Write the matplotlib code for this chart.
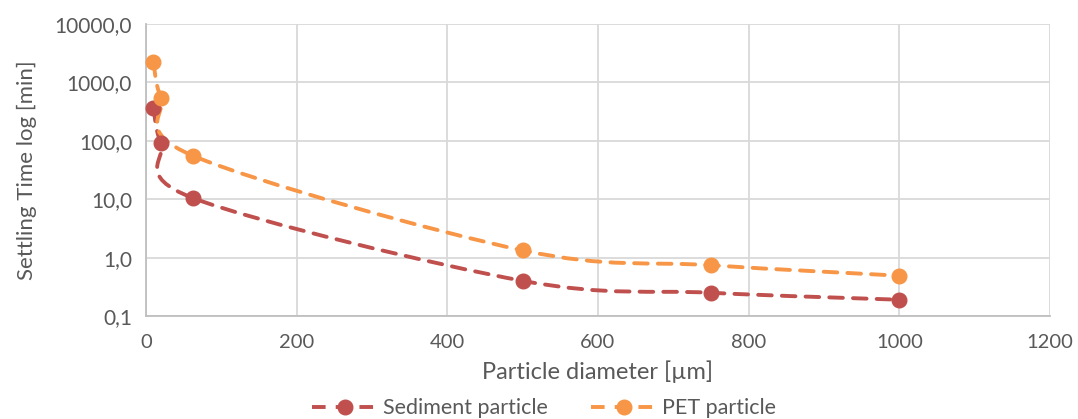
import numpy as np
import matplotlib
matplotlib.use("Agg")
import matplotlib.pyplot as plt
from matplotlib.path import Path
from matplotlib.patches import PathPatch
from matplotlib.lines import Line2D
from matplotlib.ticker import FuncFormatter, FixedLocator

# --- dados ---
diameter = [10, 20, 63, 500, 750, 1000]
sediment = [370, 92, 10.4, 0.40, 0.25, 0.19]
pet = [2200, 550, 55, 1.33, 0.74, 0.49]
series_names = ["Sediment particle", "PET particle"]
colors = ["#C0504D", "#F79646"]
y_ticks = [0.1, 1, 10, 100, 1000, 10000]
x_ticks = [0, 200, 400, 600, 800, 1000, 1200]

plt.rcParams['font.family'] = ['Lato', 'DejaVu Sans']
TXT = "#595959"


def smooth_path(xs, ys):
    # curva suavizada tipo Excel (Catmull-Rom -> Bezier) no espaco (x, log y)
    p = np.column_stack([np.asarray(xs, float), np.log10(ys)])
    n = len(p)
    verts = [p[0]]
    codes = [Path.MOVETO]
    for i in range(n - 1):
        p0 = p[i - 1] if i > 0 else p[i]
        p3 = p[i + 2] if i + 2 < n else p[i + 1]
        c1 = p[i] + (p[i + 1] - p0) / 6
        c2 = p[i + 1] - (p3 - p[i]) / 6
        verts += [c1, c2, p[i + 1]]
        codes += [Path.CURVE4] * 3
    v = np.array(verts)
    v[:, 1] = 10 ** v[:, 1]
    return Path(v, codes)


fig = plt.figure(figsize=(10.78, 4.19), dpi=100)
ax = fig.add_axes([0.1354, 0.2458, 0.8386, 0.6969])
ax.set_yscale('log')
ax.set_xlim(0, 1200)
ax.set_ylim(0.1, 10000)

for vals, col in zip([sediment, pet], colors):
    patch = PathPatch(smooth_path(diameter, vals), fill=False, edgecolor=col,
                      lw=2.8, linestyle=(0, (3.5, 2.6)), capstyle='round', zorder=3)
    ax.add_patch(patch)
    ax.plot(diameter, vals, 'o', color=col, ms=10.5, zorder=4, clip_on=False)

ax.yaxis.set_major_locator(FixedLocator(y_ticks))
ax.yaxis.set_minor_locator(FixedLocator([]))
ax.yaxis.set_major_formatter(FuncFormatter(lambda v, p: f"{v:.1f}".replace('.', ',')))
ax.set_xticks(x_ticks)

ax.grid(True, color="#D9D9D9", lw=1.3)
ax.set_axisbelow(True)
for s in ['top', 'right']:
    ax.spines[s].set_visible(False)
for s in ['left', 'bottom']:
    ax.spines[s].set_color("#BFBFBF")
    ax.spines[s].set_linewidth(1.3)
ax.tick_params(axis='y', length=0, labelsize=15, colors=TXT, pad=10)
ax.tick_params(axis='x', length=0, labelsize=14.5, colors=TXT, pad=13)

ax.set_xlabel("Particle diameter [µm]", fontsize=17, color=TXT, labelpad=7)
ax.set_ylabel("Settling Time log [min]", fontsize=16, color=TXT, labelpad=13)

handles = [Line2D([], [], color=c, lw=2.8, ls=(0, (3.5, 2.6)), marker='o', ms=10.5)
           for c in colors]
fig.legend(handles, series_names, loc='lower center', bbox_to_anchor=(0.505, -0.045),
           ncol=2, frameon=False, fontsize=15.5, labelcolor=TXT,
           handlelength=3.0, columnspacing=2.0, handletextpad=0.3)

fig.savefig("out.png", dpi=100)
